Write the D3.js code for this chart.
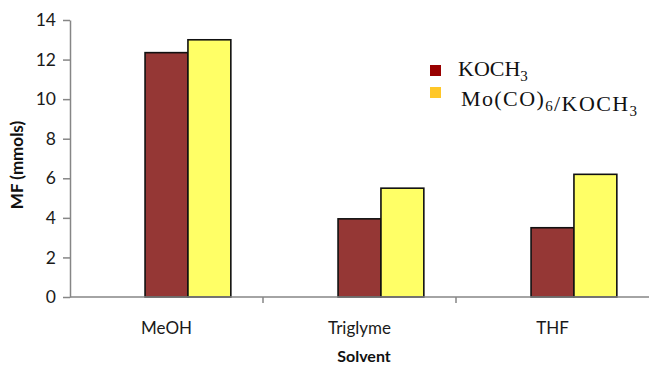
<!DOCTYPE html>
<html>
<head>
<meta charset="utf-8">
<script src="https://cdn.jsdelivr.net/npm/d3@7"></script>
<style>
  body { margin: 0; background: #fff; }
</style>
</head>
<body>
<div id="root"></div>
<script>
// values
const solvents = ["MeOH", "Triglyme", "THF"];
const koch3 = [12.35, 3.95, 3.5];
const moKoch3 = [13.0, 5.5, 6.2];
const yTicks = [0, 2, 4, 6, 8, 10, 12, 14];

// Excel left an empty first slot in each group, keep it so bars sit where they did
const slots = ["empty", "KOCH3", "Mo(CO)6/KOCH3"];
const colors = { "KOCH3": "#953735", "Mo(CO)6/KOCH3": "#ffff66" };
const legendColors = { "KOCH3": "#990000", "Mo(CO)6/KOCH3": "#ffc728" };

const sans = "Lato, 'Open Sans', sans-serif";
const serif = "'Liberation Serif', 'DejaVu Serif', serif";

const svg = d3.select("#root").append("svg")
  .attr("width", 649)
  .attr("height", 365);

const margin = { top: 20, right: 0, bottom: 68, left: 70 },
  width = 649 - margin.left - margin.right,
  height = 365 - margin.top - margin.bottom;

const g = svg.append("g")
  .attr("transform", `translate(${margin.left},${margin.top})`);

const x = d3.scaleBand().domain(solvents).range([0, width]).padding(0);
const xs = d3.scaleBand().domain(slots).range([0, x.bandwidth()])
  .paddingInner(0).paddingOuter(0.75);
const y = d3.scaleLinear().domain([0, 14]).range([height, 0]);

const rows = solvents.map((s, i) => ({
  solvent: s,
  values: [
    { key: "KOCH3", v: koch3[i] },
    { key: "Mo(CO)6/KOCH3", v: moKoch3[i] }
  ]
}));

// bars
g.selectAll("g.grp").data(rows).join("g")
  .attr("class", "grp")
  .attr("transform", d => `translate(${x(d.solvent)},0)`)
  .selectAll("rect").data(d => d.values).join("rect")
  .attr("x", d => xs(d.key))
  .attr("width", xs.bandwidth())
  .attr("y", d => y(d.v))
  .attr("height", d => y(0) - y(d.v))
  .attr("fill", d => colors[d.key])
  .attr("stroke", "#111")
  .attr("stroke-width", 1.6);

// y axis
const yAxis = g.append("g")
  .call(d3.axisLeft(y).tickValues(yTicks).tickSize(7).tickSizeOuter(0).tickPadding(7));
yAxis.select(".domain").attr("stroke", "#868686").attr("stroke-width", 1.5);
yAxis.selectAll(".tick line").attr("stroke", "#868686").attr("stroke-width", 1.5);
yAxis.selectAll(".tick text")
  .style("font-family", sans).style("font-size", "17.5px").attr("fill", "#1a1a1a");

// x axis: line plus ticks on the group boundaries
const xAxis = g.append("g").attr("transform", `translate(0,${height})`);
xAxis.append("line")
  .attr("x1", 0).attr("x2", width)
  .attr("stroke", "#868686").attr("stroke-width", 1.5);
xAxis.selectAll("line.b").data(solvents.slice(1)).join("line")
  .attr("class", "b")
  .attr("x1", d => x(d)).attr("x2", d => x(d))
  .attr("y1", 0).attr("y2", 6)
  .attr("stroke", "#868686").attr("stroke-width", 1.5);
xAxis.selectAll("text").data(solvents).join("text")
  .attr("x", d => x(d) + x.bandwidth() / 2)
  .attr("y", 37)
  .attr("text-anchor", "middle")
  .style("font-family", sans).style("font-size", "17px")
  .attr("fill", "#1a1a1a")
  .text(d => d);

// axis titles
svg.append("text")
  .attr("x", 364).attr("y", 362)
  .attr("text-anchor", "middle")
  .style("font-family", sans).style("font-size", "16px").style("font-weight", "bold")
  .attr("fill", "#111")
  .text("Solvent");

svg.append("text")
  .attr("transform", "translate(23,165) rotate(-90)")
  .attr("text-anchor", "middle")
  .style("font-family", sans).style("font-size", "17px").style("font-weight", "bold")
  .attr("fill", "#111")
  .text("MF (mmols)");

// legend
const legend = svg.append("g").attr("transform", "translate(430,0)");
const legendRows = [
  { key: "KOCH3", y: 76, box: 65, spacing: 0, parts: [["KOCH", false], ["3", true]] },
  { key: "Mo(CO)6/KOCH3", y: 106, box: 87, spacing: 1.4,
    parts: [["Mo(CO)", false], ["6", true], ["/KOCH", false], ["3", true]] }
];
legendRows.forEach((r, i) => {
  legend.append("rect")
    .attr("x", 0).attr("y", r.box)
    .attr("width", 11).attr("height", 11)
    .attr("fill", legendColors[r.key]);
  const t = legend.append("text")
    .attr("x", i === 0 ? 28 : 31).attr("y", r.y)
    .style("font-family", serif).style("font-size", "22px")
    .style("letter-spacing", r.spacing + "px")
    .attr("fill", "#111");
  r.parts.forEach(([s, sub]) => {
    t.append("tspan")
      .style("font-size", sub ? "15px" : "22px")
      .attr("dy", sub ? 5 : 0)
      .text(s);
    // back to the baseline after a subscript
    if (sub) t.append("tspan").attr("dy", -5).text("");
  });
});
</script>
</body>
</html>
